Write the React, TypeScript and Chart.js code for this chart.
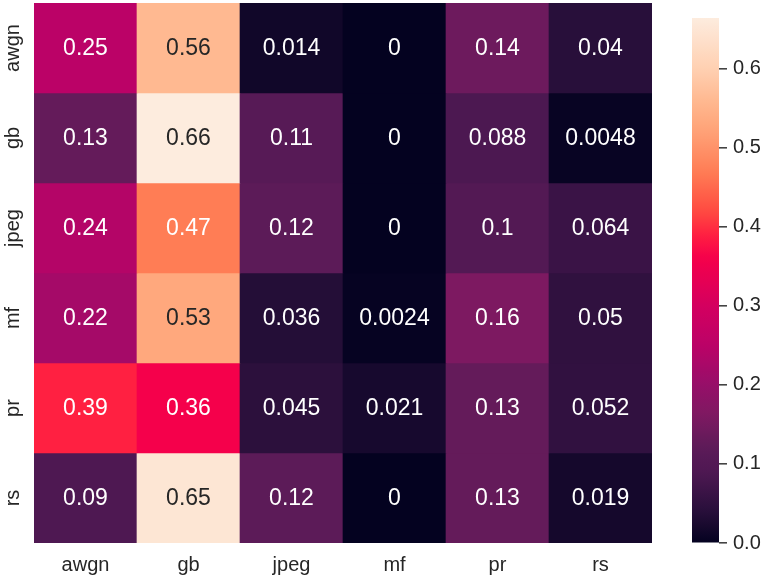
import React, { useEffect, useRef } from "react";
import { Chart, registerables } from "chart.js";
Chart.register(...registerables);

const rowLabels = ["awgn", "gb", "jpeg", "mf", "pr", "rs"];
const colLabels = ["awgn", "gb", "jpeg", "mf", "pr", "rs"];

const awgnRow = [0.25, 0.56, 0.014, 0, 0.14, 0.04];
const gbRow = [0.13, 0.664, 0.11, 0, 0.088, 0.0048];
const jpegRow = [0.24, 0.47, 0.12, 0, 0.1, 0.064];
const mfRow = [0.22, 0.53, 0.036, 0.0024, 0.16, 0.05];
const prRow = [0.39, 0.36, 0.045, 0.021, 0.13, 0.052];
const rsRow = [0.09, 0.65, 0.12, 0, 0.13, 0.019];
const matrix = [awgnRow, gbRow, jpegRow, mfRow, prRow, rsRow];

const colorbarTicks = [0, 0.1, 0.2, 0.3, 0.4, 0.5, 0.6];
const VMIN = 0;
const VMAX = 0.664;

// colormap stops (value -> rgb)
const cmapStops: [number, number[]][] = [
  [0, [4, 2, 32]],
  [0.04, [40, 15, 58]],
  [0.09, [78, 24, 82]],
  [0.12, [92, 27, 88]],
  [0.16, [125, 25, 97]],
  [0.2, [150, 15, 105]],
  [0.25, [187, 2, 103]],
  [0.3, [212, 0, 95]],
  [0.36, [245, 0, 75]],
  [0.39, [255, 32, 65]],
  [0.42, [255, 75, 65]],
  [0.47, [255, 125, 85]],
  [0.53, [255, 168, 125]],
  [0.56, [255, 185, 145]],
  [0.6, [255, 208, 178]],
  [0.664, [253, 236, 222]],
];

function cmapRGB(v: number): number[] {
  const x = Math.max(VMIN, Math.min(VMAX, v));
  for (let i = 0; i < cmapStops.length - 1; i++) {
    const [a, ca] = cmapStops[i];
    const [b, cb] = cmapStops[i + 1];
    if (x <= b) {
      const t = (x - a) / (b - a);
      return ca.map((c, k) => Math.round(c + (cb[k] - c) * t));
    }
  }
  return cmapStops[cmapStops.length - 1][1];
}
function cmap(v: number): string {
  const [r, g, b] = cmapRGB(v);
  return `rgb(${r},${g},${b})`;
}
function luminance(rgb: number[]): number {
  const lin = (c: number) => {
    const s = c / 255;
    return s <= 0.03928 ? s / 12.92 : Math.pow((s + 0.055) / 1.055, 2.4);
  };
  return 0.2126 * lin(rgb[0]) + 0.7152 * lin(rgb[1]) + 0.0722 * lin(rgb[2]);
}
function fmt2g(v: number): string {
  if (v === 0) return "0";
  return String(Number(v.toPrecision(2)));
}

const FONT = "'Liberation Sans', Arial, sans-serif";
const TEXT_DARK = "#262626";

const annotPlugin = {
  id: "annot",
  afterDatasetsDraw(chart: any) {
    const ctx = chart.ctx;
    ctx.save();
    ctx.font = `23px ${FONT}`;
    ctx.textAlign = "center";
    ctx.textBaseline = "alphabetic";
    matrix.forEach((row, i) => {
      const meta = chart.getDatasetMeta(i);
      row.forEach((v, j) => {
        const el = meta.data[j];
        const cx = el.x;
        const cy = (el.y + el.base) / 2;
        ctx.fillStyle = luminance(cmapRGB(v)) > 0.408 ? TEXT_DARK : "#ffffff";
        ctx.fillText(fmt2g(v), cx, cy + 7);
      });
    });
    // rotated row labels
    const yScale = chart.scales.y;
    ctx.font = `20px ${FONT}`;
    ctx.fillStyle = TEXT_DARK;
    ctx.textBaseline = "middle";
    rowLabels.forEach((lab, i) => {
      const y = yScale.getPixelForValue(i + 0.5);
      ctx.save();
      ctx.translate(13, y);
      ctx.rotate(-Math.PI / 2);
      ctx.fillText(lab, 0, 0);
      ctx.restore();
    });
    ctx.restore();
  },
};

export default function App() {
  const mainRef = useRef<HTMLCanvasElement>(null);
  const cbRef = useRef<HTMLCanvasElement>(null);

  useEffect(() => {
    const main = new Chart(mainRef.current!, {
      type: "bar",
      data: {
        labels: colLabels,
        datasets: matrix.map((row, i) => ({
          label: rowLabels[i],
          data: row.map(() => 1),
          backgroundColor: row.map((v) => cmap(v)),
          borderWidth: 0,
          barPercentage: 1,
          categoryPercentage: 1,
          stack: "s",
        })),
      },
      options: {
        animation: false,
        responsive: false,
        maintainAspectRatio: false,
        layout: { padding: { top: 3, right: 8, left: 0, bottom: 0 } },
        plugins: { legend: { display: false }, tooltip: { enabled: false } },
        scales: {
          x: {
            stacked: true,
            grid: { display: false, drawTicks: false },
            border: { display: false },
            ticks: { font: { family: FONT, size: 20 }, color: TEXT_DARK, padding: 10 },
            afterFit(s: any) {
              s.height = 36;
            },
          },
          y: {
            type: "linear",
            stacked: true,
            min: 0,
            max: 6,
            reverse: true,
            grid: { display: false, drawTicks: false },
            border: { display: false },
            ticks: { display: false },
            afterFit(s: any) {
              s.width = 34;
            },
          },
        },
      } as any,
      plugins: [annotPlugin],
    });

    const cb = new Chart(cbRef.current!, {
      type: "bar",
      data: {
        labels: [""],
        datasets: [
          {
            data: [VMAX],
            borderWidth: 0,
            barPercentage: 1,
            categoryPercentage: 1,
            backgroundColor: (c: any) => {
              const chart = c.chart;
              if (!chart.chartArea) return cmap(VMAX / 2);
              const ys = chart.scales.y;
              const g = chart.ctx.createLinearGradient(0, ys.getPixelForValue(VMIN), 0, ys.getPixelForValue(VMAX));
              const n = 64;
              for (let k = 0; k <= n; k++) {
                g.addColorStop(k / n, cmap(VMIN + ((VMAX - VMIN) * k) / n));
              }
              return g;
            },
          },
        ],
      },
      options: {
        animation: false,
        responsive: false,
        maintainAspectRatio: false,
        layout: { padding: { top: 4, right: 0, left: 32, bottom: 36 } },
        plugins: { legend: { display: false }, tooltip: { enabled: false } },
        scales: {
          x: { display: false },
          y: {
            position: "right",
            min: VMIN,
            max: VMAX,
            afterBuildTicks(s: any) {
              s.ticks = colorbarTicks.map((v) => ({ value: v }));
            },
            ticks: {
              callback: (v: any) => Number(v).toFixed(1),
              font: { family: FONT, size: 20 },
              color: TEXT_DARK,
              padding: 6,
            },
            grid: { drawOnChartArea: false, drawTicks: true, tickLength: 8, color: "#444444", lineWidth: 1.6 },
            border: { display: false },
            afterFit(s: any) {
              s.width = 50;
            },
          },
        },
      } as any,
    });

    return () => {
      main.destroy();
      cb.destroy();
    };
  }, []);

  return (
    <div style={{ position: "absolute", left: 0, top: 0, width: 769, height: 579, background: "#ffffff" }}>
      <canvas ref={mainRef} width={660} height={579} style={{ position: "absolute", left: 0, top: 0, width: 660, height: 579 }} />
      <canvas ref={cbRef} width={109} height={579} style={{ position: "absolute", left: 660, top: 0, width: 109, height: 579 }} />
    </div>
  );
}
